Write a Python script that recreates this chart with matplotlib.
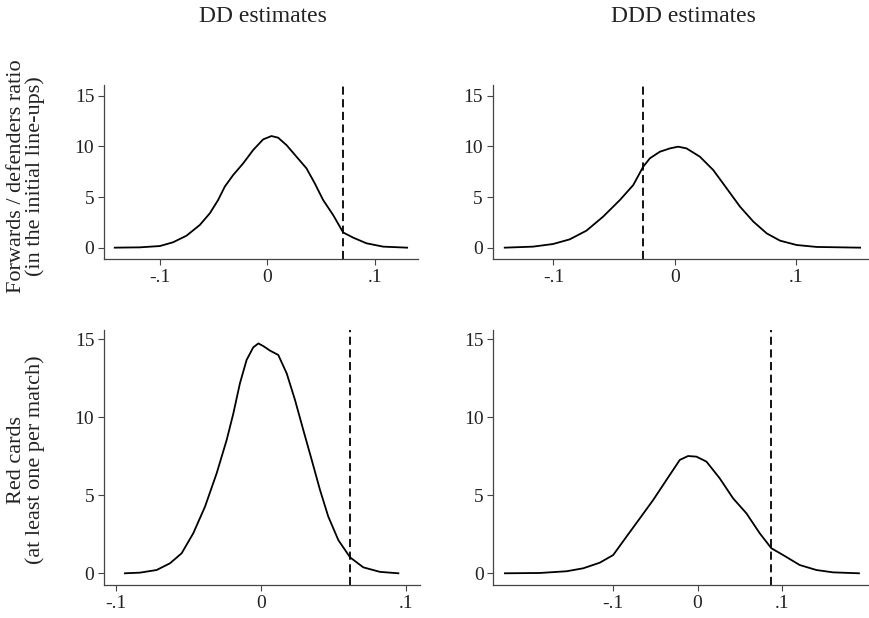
import numpy as np
import matplotlib.pyplot as plt

plt.rcParams['font.family'] = ['Liberation Serif', 'DejaVu Serif']

# Density of placebo estimates (x = estimate, y = density)
# Forwards / defenders ratio, DD
fw_dd_x = [-0.142, -0.1188, -0.100, -0.0878, -0.0753, -0.0629, -0.0536, -0.0459, -0.0397,
           -0.0319, -0.0226, -0.0133, -0.0040, 0.0037, 0.0099, 0.0177, 0.0270, 0.0363,
           0.0440, 0.0518, 0.0611, 0.0704, 0.0797, 0.0921, 0.1076, 0.1299]
fw_dd_y = [0, 0.03, 0.16, 0.53, 1.18, 2.24, 3.39, 4.70, 6.02, 7.17, 8.32, 9.64, 10.69, 11.02,
           10.86, 10.13, 8.98, 7.83, 6.35, 4.70, 3.22, 1.50, 0.99, 0.43, 0.10, 0]
fw_dd_est = 0.0703

# Forwards / defenders ratio, DDD
fw_ddd_x = [-0.1401, -0.1168, -0.1003, -0.0866, -0.0728, -0.0591, -0.0453, -0.0343, -0.0261,
            -0.0206, -0.0124, -0.0041, 0.0027, 0.0096, 0.0206, 0.0316, 0.0426, 0.0536,
            0.0646, 0.0756, 0.0866, 0.1003, 0.1168, 0.1525]
fw_ddd_y = [0, 0.10, 0.36, 0.82, 1.68, 3.06, 4.70, 6.18, 7.99, 8.82, 9.47, 9.80, 9.97, 9.80,
            8.98, 7.66, 5.86, 4.05, 2.57, 1.41, 0.69, 0.26, 0.07, 0]
fw_ddd_est = -0.026

# Red cards, DD
rc_dd_x = [-0.0936, -0.0833, -0.0718, -0.0626, -0.0546, -0.0466, -0.0385, -0.0305, -0.0236,
           -0.0190, -0.0145, -0.0099, -0.0053, -0.0018, 0.0016, 0.0062, 0.0119, 0.0177,
           0.0234, 0.0291, 0.0349, 0.0406, 0.0463, 0.0532, 0.0613, 0.0704, 0.0819, 0.0945]
rc_dd_y = [0, 0.04, 0.21, 0.64, 1.28, 2.56, 4.27, 6.40, 8.54, 10.24, 12.16, 13.66, 14.47,
           14.72, 14.55, 14.26, 13.98, 12.80, 11.10, 9.18, 7.26, 5.34, 3.63, 2.13, 1.02,
           0.38, 0.09, 0]
rc_dd_est = 0.0613

# Red cards, DDD
rc_ddd_x = [-0.2282, -0.1868, -0.1552, -0.1355, -0.1158, -0.1000, -0.0842, -0.0684, -0.0527,
            -0.0369, -0.0211, -0.0113, -0.0014, 0.0105, 0.0262, 0.0420, 0.0578, 0.0736,
            0.0874, 0.1012, 0.1209, 0.1406, 0.1603, 0.1911]
rc_ddd_y = [0, 0.02, 0.13, 0.32, 0.68, 1.17, 2.35, 3.52, 4.69, 5.98, 7.26, 7.51, 7.47, 7.15,
            6.08, 4.80, 3.84, 2.56, 1.60, 1.17, 0.53, 0.21, 0.06, 0]
rc_ddd_est = 0.0874

col_titles = ['DD estimates', 'DDD estimates']
row_labels = ['Forwards / defenders ratio\n(in the initial line-ups)',
              'Red cards\n(at least one per match)']
x_ticks = [-0.1, 0, 0.1]
x_ticklabels = ['-.1', '0', '.1']
y_ticks = [0, 5, 10, 15]

W, H = 869, 618
fig = plt.figure(figsize=(W / 100, H / 100), dpi=100)


def px_axes(left, right, top, bottom):
    return fig.add_axes([left / W, 1 - bottom / H, (right - left) / W, (bottom - top) / H])


panels = [
    (px_axes(104, 418, 85, 259), fw_dd_x, fw_dd_y, fw_dd_est, (-0.152, 0.140), (-1.12, 16.06)),
    (px_axes(492.7, 868, 85, 259), fw_ddd_x, fw_ddd_y, fw_ddd_est, (-0.150, 0.159), (-1.12, 16.06)),
    (px_axes(104, 420, 330, 585), rc_dd_x, rc_dd_y, rc_dd_est, (-0.108, 0.1094), (-0.75, 15.58)),
    (px_axes(493.3, 868, 330, 585), rc_ddd_x, rc_ddd_y, rc_ddd_est, (-0.242, 0.2018), (-0.75, 15.58)),
]

for ax, xs, ys, est, xl, yl in panels:
    ax.plot(xs, ys, color='black', linewidth=1.3)
    ax.axvline(est, color='black', linewidth=1.3, dashes=(4.5, 2.5))
    ax.set_xlim(*xl)
    ax.set_ylim(*yl)
    ax.set_xticks(x_ticks)
    ax.set_xticklabels(x_ticklabels)
    ax.set_yticks(y_ticks)
    for s in ['top', 'right']:
        ax.spines[s].set_visible(False)
    for s in ['left', 'bottom']:
        ax.spines[s].set_color('#444444')
        ax.spines[s].set_linewidth(0.9)
    ax.tick_params(direction='out', length=4, width=0.8, color='#444444',
                   labelsize=14, labelcolor='#222222', pad=3)
    ax.patch.set_alpha(0)

fig.text(262.5 / W, 1 - 17 / H, col_titles[0], ha='center', va='center', fontsize=17, color='#222222')
fig.text(683 / W, 1 - 17 / H, col_titles[1], ha='center', va='center', fontsize=17, color='#222222')
fig.text(26 / W, 1 - 176 / H, row_labels[0], ha='center', va='center', rotation=90,
         fontsize=16, color='#222222', linespacing=0.95)
fig.text(26 / W, 1 - 460 / H, row_labels[1], ha='center', va='center', rotation=90,
         fontsize=16, color='#222222', linespacing=0.95)

fig.savefig('out.png', dpi=100)
